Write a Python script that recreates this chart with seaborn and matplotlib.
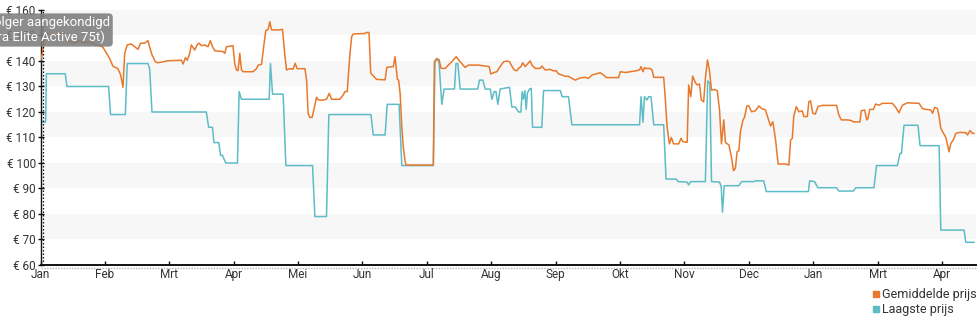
import matplotlib
matplotlib.use("Agg")
import matplotlib.pyplot as plt
from matplotlib.lines import Line2D
from matplotlib.transforms import offset_copy
import pandas as pd
import seaborn as sns

# Price history (days since the first of January), values in euro
avg_days = [0, 0.9, 1.9, 2.8, 6.6, 9, 11.8, 12.8, 16.1, 18.5, 20.8, 23.2, 25.6, 27.9, 29.4, 30.3,
            32.7, 34.2, 36.6, 37.9, 39, 39.8, 41, 42.9, 44.5, 46.1, 47.3, 49.2, 50.8, 51.6, 52.7,
            54.3, 55.5, 60.3, 66.6, 67.4, 68.5, 69.4, 70.5, 71.3, 72.9, 74, 74.9, 76.1, 77.6,
            79.2, 80.3, 81.3, 82.4, 86.3, 87.1, 87.9, 91, 91.8, 92.6, 93.4, 94.2, 95, 95.8,
            100.5, 102.1, 102.9, 104.5, 105.6, 106.5, 107.6, 108.4, 109.2, 113.1, 114.4, 115.5,
            116.3, 117.9, 119.4, 120.4, 121.3, 125, 125.8, 126.5, 127.3, 128.4, 129.2, 130.5,
            131.3, 132.9, 135.2, 136.5, 137.6, 141.5, 143.1, 143.9, 145, 146.3, 147.1, 147.8,
            153.4, 154.2, 155.3, 156.1, 157.3, 158.9, 162.9, 163.7, 166.8, 167.6, 168.7, 169.3,
            170, 170.8, 171.5, 172.3, 172.8, 185.7, 186.2, 187.3, 188.4, 189.4, 191.3, 192.8,
            194.4, 196.5, 198.4, 200.7, 202.3, 207, 210.2, 212.1, 212.9, 214.1, 215.7, 217.3,
            218.9, 220.5, 221.7, 222.8, 223.9, 225.2, 226, 227.1, 228, 229.1, 230.2, 231.5,
            232.3, 233.9, 236.2, 237, 238.6, 241, 242.5, 243.8, 244.9, 246.5, 248.1, 249.6,
            251.2, 252.8, 255.2, 257.5, 259.1, 260.7, 264.6, 266.2, 267.5, 273.3, 274.1, 276.5,
            278.8, 281.2, 283.2, 283.9, 284.8, 285.5, 286.7, 288, 289.1, 289.9, 294.6, 295.4,
            296.2, 297.3, 298.2, 299.3, 301.7, 302.8, 303.6, 305.7, 306.4, 307.4, 308.3, 309.6,
            310.5, 311.5, 312.4, 313.5, 314.3, 315.3, 316.2, 317.2, 318.7, 319.9, 321, 321.9,
            323, 323.8, 325.4, 326.6, 327.6, 328.5, 329.3, 330.1, 330.9, 332, 332.9, 333.9,
            334.8, 336.1, 338, 339.6, 340.8, 342.7, 344.3, 345.1, 346.2, 347.5, 348.7, 352.2,
            353.8, 354.6, 355.4, 356.1, 357.3, 358.5, 360.1, 360.9, 362.5, 363.2, 364, 365.1,
            366.3, 367.5, 369.6, 376.3, 377.4, 378.6, 381.4, 383, 384.5, 387.4, 388, 389.6,
            390.6, 391.2, 392, 393.7, 394.8, 396.4, 398, 402.7, 404.3, 405.8, 407.5, 409.8,
            415.3, 416.9, 418.5, 420.9, 421.7, 422.7, 424, 424.8, 425.6, 426.9, 428, 428.8,
            429.5, 430.3, 431.6, 432.7, 434.3, 437.4, 438.2, 439.4, 440.6, 441.4]
avg_price = [140, 143, 149, 151, 150, 151, 150.5, 148, 147, 148, 147, 147.5, 146.5, 146, 145.5, 144.3,
             141, 138, 137, 134.5, 129.7, 143, 146.3, 146.7, 145.6, 144.6, 147, 147, 148, 145.5, 142.4,
             139.7, 139.3, 140.1, 140.3, 138.8, 141.3, 140.3, 142.9, 146.3, 144.3, 146.3, 147, 146, 146.3,
             145.6, 148, 145.6, 144, 143.7, 143, 145.6, 146, 139.1, 136.5, 136.2, 143, 136.5, 135.8,
             135.8, 137, 138.4, 138.7, 146.3, 151.9, 152.4, 155.4, 152.2, 152.2, 152.4, 142.4,
             136.5, 137, 136.8, 139.1, 137, 137, 132.5, 119.5, 117.9, 117.9, 120.8, 125.8,
             124.8, 124.6, 125, 127.3, 125, 125, 126.7, 128, 128, 143, 149.5, 150.6,
             150.8, 151.2, 151.2, 135.2, 134.2, 132.8, 132.6, 137.5, 137.8, 141.7, 132.8, 132.5,
             127.3, 114.2, 106.3, 101, 99.2, 99.2, 139.7, 141, 140.5, 137.1, 137.1, 138.4,
             139.7, 141.7, 139.7, 137.5, 138.4, 138.4, 138, 137.8, 134.9, 135.4, 135.8, 137.8,
             139.7, 140, 139.7, 138, 136.5, 136.2, 137.1, 137.8, 139.3, 137.8, 138.8, 140,
             138.4, 137.1, 137.1, 138, 136.5, 136.7, 136.1, 136.2, 134.9, 134.5, 134, 134,
             133.2, 132.5, 133.4, 133.6, 133.2, 134.5, 135.4, 134.5, 133.5, 133.5, 135.8, 135.5,
             135.8, 136.1, 136.5, 137.8, 135.8, 137.4, 137, 137.1, 136.5, 133.6, 133.6, 124.7,
             114.2, 107.5, 110, 107.5, 107.5, 109.7, 108.4, 108.1, 130.6, 126, 134.1, 131.5,
             130.6, 131, 124.7, 124, 133.2, 140.4, 136.5, 128.6, 128.8, 128.4, 120.8, 107.5,
             116.9, 108, 107.1, 102.5, 97, 97.9, 104.4, 104.8, 112.3, 116.6, 118.2, 122.4,
             122.4, 120.1, 120.5, 122.4, 121.4, 120.8, 116.6, 114.5, 116.2, 109, 99.6, 99.6,
             99.2, 109, 109.7, 118.4, 122.1, 120.1, 120.4, 118.2, 118.2, 124, 124.4, 119.5,
             119.2, 122.1, 122.6, 122.6, 118.8, 116.9, 116.9, 116.7, 116.1, 116.1, 120.5, 120.8,
             116.9, 117.5, 121, 121, 123.1, 122.7, 123.4, 123.4, 121.8, 119.7, 122.7, 123.6,
             123.4, 121.4, 121, 120.8, 119.5, 121.8, 121.4, 118.2, 113.6, 111.6, 110, 107.1,
             104.4, 107.6, 109.2, 111.6, 112, 111.9, 111, 112.7, 111.6, 111.6]

low_days = [0, 2.4, 2.8, 11.7, 12.5, 32.2, 33.1, 40.1, 41, 50.8, 51.6, 52.7, 78.4, 79.5, 81.3, 82,
            84.3, 85.1, 86, 87.6, 93.1, 93.9, 95, 108.1, 108.7, 109.7, 114.7, 116, 128.6, 129.7,
            135.2, 136.3, 156.2, 157.3, 162.9, 163.9, 169.5, 170.8, 185.7, 186.5, 187.8, 188.4,
            189.7, 190.8, 195.7, 196.4, 197.3, 198.4, 206.7, 207.5, 209.1, 210.2, 212.6, 213.4,
            214.5, 215.3, 216.2, 217.3, 221.7, 222.8, 224.4, 225.2, 226, 227.1, 227.7, 228.3,
            229, 229.6, 230.2, 231.2, 232, 232.6, 237, 237.8, 245.7, 246.6, 249.6, 251.2, 283.2,
            283.9, 284.8, 285.5, 286.7, 287.5, 288.6, 289.9, 294.6, 295.7, 300.5, 301.4, 305.7,
            306.4, 307.4, 314.3, 315.4, 316.4, 317.2, 321, 321.8, 322.4, 323.2, 324.1, 330.1,
            331.4, 337.2, 338, 341.9, 343.1, 363, 363.6, 365.9, 367.5, 376.3, 377.4, 384.3,
            385.4, 394, 395.2, 405.1, 406.3, 407, 408.2, 414.8, 415.8, 424.8, 425.6, 436.6,
            437.4, 441.4]
low_price = [116, 116, 135, 135, 130, 130, 119, 119, 139, 139, 137, 120, 120, 114, 114, 108,
             108, 103, 103, 100, 100, 128, 125, 125, 139, 127, 127, 99, 99, 79,
             79, 119, 119, 111, 111, 123, 123, 99, 99, 140, 140.5, 139.5,
             123, 129, 129, 139, 139, 129, 129, 132.5, 132.5, 129, 129, 125,
             128, 128, 123, 129, 129.7, 122, 122, 121, 120, 120, 128, 125,
             128.4, 121, 127.5, 129, 129.3, 114, 114, 128.4, 128.4, 126, 126, 115, 115,
             126, 116, 126, 124.7, 126, 126, 115, 115, 93.7, 93.7, 92.7, 92.5,
             91.4, 92.7, 92.7, 132.2, 131.3, 92.7, 92.5, 90.8, 80.7, 91, 91.1, 91.1,
             92.7, 92.7, 93, 93, 88.8, 88.8, 93, 92.7, 90.3, 90.3, 89, 89,
             90.3, 90.3, 99, 99, 103.8, 103.8, 114.8, 114.8, 106.8, 106.8, 73.7, 73.7,
             68.9, 68.9]

month_step = 30.44
month_labels = ["Jan", "Feb", "Mrt", "Apr", "Mei", "Jun", "Jul", "Aug", "Sep", "Okt",
                "Nov", "Dec", "Jan", "Mrt", "Apr"]
price_ticks = list(range(60, 161, 10))
event_day = 1.1
event_text = "Opvolger aangekondigd\n(Jabra Elite Active 75t)"

series_names = ["Gemiddelde prijs", "Laagste prijs"]
series_colors = ["#E8792B", "#5DBCC6"]

avg_df = pd.DataFrame({"dag": avg_days, "prijs": avg_price})
low_df = pd.DataFrame({"dag": low_days, "prijs": low_price})

sns.set_theme(style="white")
plt.rcParams["font.family"] = ["Roboto", "DejaVu Sans"]

fig = plt.figure(figsize=(9.8, 3.25), dpi=100)
ax = fig.add_axes([40.5 / 980, 1 - 265 / 325, (975.5 - 40.5) / 980, 255 / 325])

# alternating horizontal bands
for lo in price_ticks[1::2]:
    if lo < 160:
        ax.axhspan(lo, lo + 10, color="#f7f7f7", zorder=0, lw=0)

sns.lineplot(data=avg_df, x="dag", y="prijs", ax=ax, color=series_colors[0],
             lw=1.1, estimator=None, sort=False, zorder=3)
sns.lineplot(data=low_df, x="dag", y="prijs", ax=ax, color=series_colors[1],
             lw=1.1, estimator=None, sort=False, zorder=2)

ax.axvline(event_day, color="#111111", ls=(0, (1.2, 1.6)), lw=0.9, zorder=4)

ax.set_xlim(0, 442)
ax.set_ylim(60, 160)
ax.set_xticks([i * month_step for i in range(len(month_labels))])
ax.set_xticklabels(month_labels)
ax.set_yticks(price_ticks)
ax.set_yticklabels([f"€ {v}" for v in price_ticks])
ax.set_xlabel("")
ax.set_ylabel("")

for side in ("top", "right"):
    ax.spines[side].set_visible(False)
ax.spines["left"].set_color("#111111")
ax.spines["left"].set_linewidth(1.0)
ax.spines["bottom"].set_color("#111111")
ax.spines["bottom"].set_linewidth(1.4)

ax.tick_params(axis="x", direction="in", length=3, width=1, color="#111111",
               labelsize=8.5, labelcolor="#333333", pad=2)
ax.tick_params(axis="y", direction="inout", length=5, width=1, color="#111111",
               labelsize=8.5, labelcolor="#333333", pad=1)
ax.tick_params(axis="both", which="both", bottom=True, left=True)

# faint dotted rule under the time axis
ax.plot([0, 1], [0, 0], transform=offset_copy(ax.transAxes, fig=fig, y=-2.5, units="dots"),
        color="#b5b5b5", ls=(0, (1, 1)), lw=1.0, clip_on=False, zorder=1)

# event flag
fig.text(-29 / 980, 1 - 30 / 325, event_text, color="white", fontsize=9.5, ha="left", va="center",
         linespacing=1.15, zorder=10,
         bbox=dict(boxstyle="round,pad=0.2,rounding_size=0.3", fc="#7d7d7d", ec="none", alpha=0.88))

handles = [Line2D([], [], marker="s", ls="none", color=c, markersize=5) for c in series_colors]
fig.legend(handles, series_names, loc="upper left", bbox_to_anchor=(872 / 980, 1 - 288 / 325),
           frameon=False, fontsize=9, handlelength=0.6, handletextpad=0.2, labelspacing=0.15,
           borderpad=0, borderaxespad=0, labelcolor="#333333")

fig.savefig("out.png", dpi=100)
